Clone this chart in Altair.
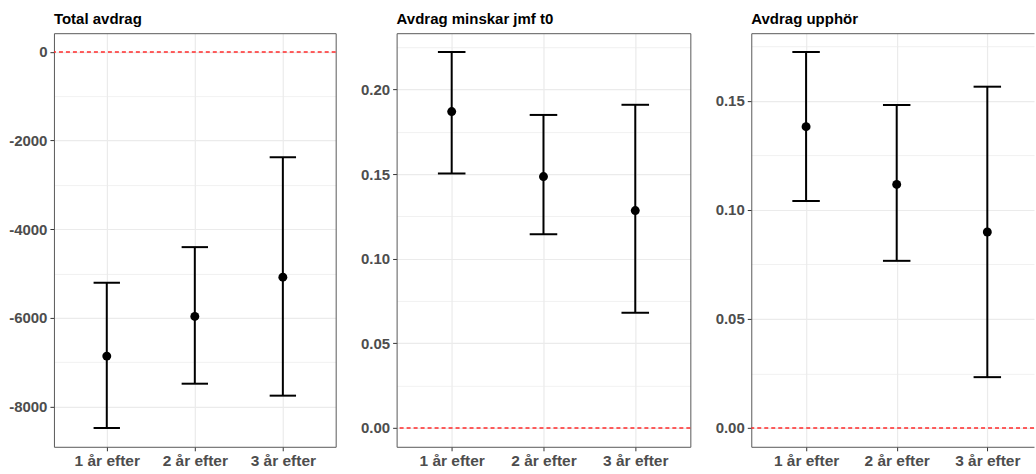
import altair as alt
import pandas as pd

cats = ["1 år efter", "2 år efter", "3 år efter"]

titles = ["Total avdrag", "Avdrag minskar jmf t0", "Avdrag upphör"]

total_est = [-6865, -5970, -5083]
total_lo = [-8488, -7488, -7758]
total_hi = [-5210, -4405, -2376]

minskar_est = [0.187, 0.1486, 0.1285]
minskar_lo = [0.1504, 0.1145, 0.0681]
minskar_hi = [0.2222, 0.185, 0.191]

upphor_est = [0.1381, 0.1116, 0.0898]
upphor_lo = [0.104, 0.0766, 0.0233]
upphor_hi = [0.1723, 0.148, 0.1564]

total_ticks = [-8000, -7000, -6000, -5000, -4000, -3000, -2000, -1000, 0]
minskar_ticks = [0.0, 0.025, 0.05, 0.075, 0.1, 0.125, 0.15, 0.175, 0.2, 0.225]
upphor_ticks = [0.0, 0.025, 0.05, 0.075, 0.1, 0.125, 0.15, 0.175]

ref_value = [0]

FONT = "Liberation Sans"
LABEL_COLOR = "#4D4D4D"
BORDER = "#595959"


def expand(lo, hi):
    mn = min(min(lo), 0)
    mx = max(max(hi), 0)
    r = mx - mn
    return [mn - 0.05 * r, mx + 0.05 * r]


def panel(title, est, lo, hi, ticks, major_test, label_expr, width, cap,
          cut_right=False):
    df = pd.DataFrame({"cat": cats, "est": est, "lo": lo, "hi": hi})
    ref = pd.DataFrame({"ref": ref_value})
    dom = expand(lo, hi)

    if cut_right:
        xscale = alt.Scale(type="point", padding=0.56, align=0.54)
    else:
        xscale = alt.Scale(type="point", padding=0.6)

    x = alt.X(
        "cat:N",
        sort=cats,
        title=None,
        scale=xscale,
        axis=alt.Axis(
            labelAngle=0,
            labelFont=FONT,
            labelFontSize=15.5,
            labelFontWeight="bold",
            labelColor=LABEL_COLOR,
            labelPadding=3,
            tickColor="#333333",
            tickSize=4,
            tickWidth=1,
            domain=True,
            domainColor=BORDER,
            domainWidth=1,
            grid=True,
            gridColor="#EBEBEB",
            gridWidth=1.2,
        ),
    )
    y_axis = alt.Axis(
        values=ticks,
        labelExpr=label_expr,
        labelFont=FONT,
        labelFontSize=15,
        labelFontWeight="bold",
        labelColor=LABEL_COLOR,
        labelPadding=3,
        tickColor="#333333",
        tickSize=4,
        tickWidth=1,
        tickOpacity={"condition": {"test": major_test, "value": 1}, "value": 0},
        domain=True,
        domainColor=BORDER,
        domainWidth=1,
        grid=True,
        gridColor="#EBEBEB",
        gridWidth={"condition": {"test": major_test, "value": 1.2}, "value": 0.7},
        title=None,
    )
    yscale = alt.Scale(domain=dom, nice=False, zero=False)

    xn = alt.X("cat:N", sort=cats, axis=None)

    grid_layer = alt.Chart(df).mark_point(opacity=0).encode(
        x=x, y=alt.Y("est:Q", scale=yscale, axis=y_axis)
    )
    top_axis = alt.Axis(
        orient="top", labels=False, ticks=False, grid=False, domain=True,
        domainColor=BORDER, domainWidth=1, title=None,
    )
    right_axis = alt.Axis(
        orient="right", labels=False, ticks=False, grid=False, domain=True,
        domainColor=BORDER, domainWidth=1, title=None,
    )
    border_layer = alt.Chart(df).mark_point(opacity=0).encode(
        x=alt.X("cat:N", sort=cats, axis=top_axis),
        y=alt.Y("est:Q", axis=None if cut_right else right_axis),
    )
    hline = alt.Chart(ref).mark_rule(
        color="#FF2A2A", strokeDash=[4, 3], strokeWidth=1.3
    ).encode(y=alt.Y("ref:Q", axis=None))
    bars = alt.Chart(df).mark_rule(color="black", strokeWidth=2).encode(
        x=xn, y=alt.Y("lo:Q", axis=None), y2="hi:Q"
    )
    cap_lo = alt.Chart(df).mark_tick(
        color="black", orient="horizontal", size=cap, thickness=2, opacity=1
    ).encode(x=xn, y=alt.Y("lo:Q", axis=None))
    cap_hi = alt.Chart(df).mark_tick(
        color="black", orient="horizontal", size=cap, thickness=2, opacity=1
    ).encode(x=xn, y=alt.Y("hi:Q", axis=None))
    pts = alt.Chart(df).mark_circle(color="black", size=80, opacity=1).encode(
        x=xn, y=alt.Y("est:Q", axis=None)
    )
    ch = (
        alt.layer(grid_layer, border_layer, hline, bars, cap_lo, cap_hi, pts)
        .resolve_axis(x="independent", y="independent")
        .resolve_scale(x="shared", y="shared")
        .properties(
            width=width,
            height=414,
            view=alt.ViewBackground(stroke="transparent"),
            title=alt.TitleParams(
                title,
                anchor="start",
                frame="group",
                font=FONT,
                fontSize=15,
                fontWeight="bold",
                color="black",
                offset=6,
            ),
        )
    )
    return ch


p1 = panel(
    titles[0], total_est, total_lo, total_hi, total_ticks,
    "datum.value % 2000 == 0",
    "datum.value % 2000 == 0 ? '' + datum.value : ''",
    282, 26.4,
)
test20 = "abs(datum.value * 20 - round(datum.value * 20)) < 0.001"
p2 = panel(
    titles[1], minskar_est, minskar_lo, minskar_hi, minskar_ticks,
    test20,
    test20 + " ? format(datum.value, '.2f') : ''",
    294, 27.6,
)
p3 = panel(
    titles[2], upphor_est, upphor_lo, upphor_hi, upphor_ticks,
    test20,
    test20 + " ? format(datum.value, '.2f') : ''",
    283, 27.5, cut_right=True,
)

chart = (
    alt.hconcat(p1, p2, p3, spacing=61, bounds="flush")
    .properties(padding={"left": 8, "top": 11, "right": 0, "bottom": 0})
    .configure_view(stroke="transparent")
    .configure(background="white")
)

chart.save("out.html", embed_options={"renderer": "svg", "actions": False})
